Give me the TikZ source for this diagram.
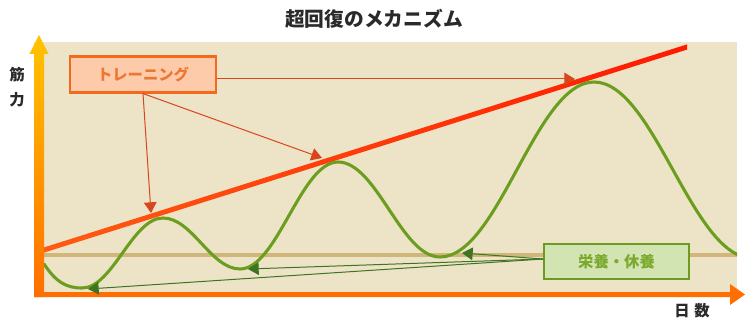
\documentclass[tikz,border=0pt]{standalone}
\usepackage{fontspec}
\newfontfamily\jp{Noto Sans CJK JP}
\usetikzlibrary{arrows.meta}
\definecolor{panel}{HTML}{EDE3C7}
\definecolor{tanline}{HTML}{D1B67C}
\definecolor{curvegreen}{HTML}{6B9E1E}
\definecolor{trnfill}{HTML}{FDCBAA}
\definecolor{trnedge}{HTML}{F26B1D}
\definecolor{trntext}{HTML}{EE7633}
\definecolor{trnarrow}{HTML}{D8461E}
\definecolor{nutfill}{HTML}{D3E4B3}
\definecolor{nutedge}{HTML}{6B9B20}
\definecolor{nuttext}{HTML}{7BAA2E}
\definecolor{nutarrow}{HTML}{3F7420}
\definecolor{axisyel}{HTML}{FFC400}
\definecolor{axisorg}{HTML}{FF6E00}
\definecolor{redA}{HTML}{FF5A12}
\definecolor{redB}{HTML}{FF1A00}
\definecolor{ink}{HTML}{2A2A2A}
\tikzset{
  labelbox/.style={draw, line width=1.6pt, minimum height=27pt, inner sep=0pt, font=\jp\bfseries\fontsize{11.5pt}{12pt}\selectfont},
  trnbox/.style={labelbox, fill=trnfill, draw=trnedge, text=trntext, minimum width=110pt},
  nutbox/.style={labelbox, fill=nutfill, draw=nutedge, text=nuttext, minimum width=109pt, minimum height=26pt},
  trnarr/.style={draw=trnarrow, line width=0.75pt, -{Triangle[length=8pt,width=9.5pt]}},
  nutarr/.style={draw=nutarrow, line width=0.75pt, -{Triangle[length=8pt,width=9.5pt]}, fill=none},
  axislabel/.style={font=\jp\bfseries\fontsize{11.5pt}{12pt}\selectfont, text=ink, inner sep=0pt}
}
\begin{document}
\begin{tikzpicture}[x=0.75pt, y=-0.75pt]
\useasboundingbox (0,0) rectangle (745,320);
% panel
\fill[panel] (34,42) rectangle (737,297);
% tan baseline
\draw[tanline, line width=2.4pt] (44,255) -- (737,255);
% red trend line
\shade[left color=redA, right color=redB] (44,247.4) -- (687,44.4) -- (687,49.6) -- (44,252.6) -- cycle;
% green curve
\begin{scope}
\clip (44,42) rectangle (737,292);
\draw[curvegreen, line width=2.3pt, line cap=round]
  (44,264) .. controls (56,282) and (66,288) .. (82,288)
  .. controls (112.8,288) and (132.2,218) .. (163,218)
  .. controls (192.3,218) and (210.7,269) .. (240,269)
  .. controls (277.2,269) and (300.8,162) .. (338,162)
  .. controls (376.8,162) and (401.2,257) .. (440,257)
  .. controls (498.5,257) and (535.5,82) .. (594,82)
  .. controls (654,82) and (692,258) .. (752,258);
\end{scope}
% axes
\shade[top color=axisyel, bottom color=axisorg]
  (34,297) -- (34,54) -- (29.5,54) -- (39,35) -- (48.5,54) -- (44,54) -- (44,297) -- cycle;
\fill[axisorg] (34,292) -- (730,292) -- (730,284) -- (745,294.5) -- (730,305) -- (730,297) -- (34,297) -- cycle;
% texts
\node[font=\jp\bfseries\fontsize{14.8pt}{16pt}\selectfont, text=ink, inner sep=0pt] (title) at (374,19) {超回復のメカニズム};
\node[axislabel] (ylab1) at (17,75) {筋};
\node[axislabel] (ylab2) at (17,100) {力};
\node[axislabel] (xlab) at (692,311) {日\hspace{0.3em}数};
% target points
\coordinate (t1) at (151,213);
\coordinate (t2) at (322,158);
\coordinate (t3) at (575,79);
\coordinate (g1) at (88,289);
\coordinate (g2) at (248,269);
\coordinate (g3) at (462,253);
\coordinate (gsrc) at (543,259);
% boxes
\node[trnbox] (trn) at (143,74.5) {トレーニング};
\node[nutbox] (nut) at (616.5,261.5) {栄養・休養};
% training arrows
\draw[trnarr] (trn.east |- t3) -- (t3);
\draw[trnarr] (trn.south) -- (t2);
\draw[trnarr] (trn.south) -- (t1);
% nutrition arrows
\draw[nutarr] (gsrc) -- (g3);
\draw[nutarr] (gsrc) -- (g2);
\draw[nutarr] (gsrc) -- (g1);
\end{tikzpicture}
\end{document}
